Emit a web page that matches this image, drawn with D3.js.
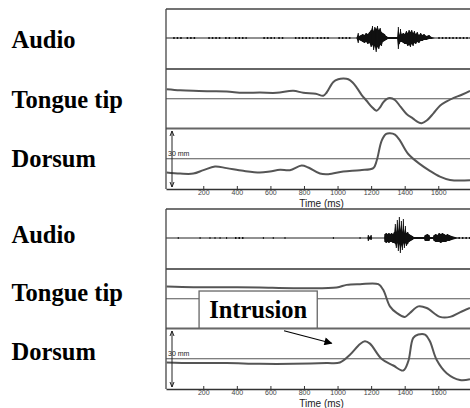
<!DOCTYPE html>
<html>
<head>
<meta charset="utf-8">
<script src="https://cdn.jsdelivr.net/npm/d3@7"></script>
<style>
body { margin: 0; background: #fff; }
svg { display: block; }
.lbl { font-family: "Liberation Serif", "Times New Roman", serif; font-weight: bold; font-size: 24.5px; fill: #000; }
.tick text { font-family: "Liberation Sans", Arial, sans-serif; font-size: 7px; fill: #444; }
.tick line { stroke: #333; }
.xlab { font-family: "Liberation Sans", Arial, sans-serif; font-size: 10px; fill: #222; }
.mm { font-family: "Liberation Sans", Arial, sans-serif; font-size: 7px; fill: #222; }
</style>
</head>
<body>
<div id="chart"></div>
<script>
var width = 470, height = 408;

// x axis (ms)
var timeDomain = [-22, 1789];
var timeTicks = [200, 400, 600, 800, 1000, 1200, 1400, 1600];
var rowLabels = ["Audio", "Tongue tip", "Dorsum"];

// ---- trial 1 (top) ----
// audio: quiet dashes [t0, t1] and burst envelope [t, max, min]
var noise1 = [[21,81],[101,161],[230,310],[330,369],[389,459],[558,627],[647,687],[746,856],[876,955],[1005,1084],[1600,1789]];
var audio1 = [[1112,0,0],[1123,5,-5],[1128,2,-2],[1140,3,-3],[1150,4,-4],[1160,3,-5],[1170,5,-4],[1180,4,-6],
  [1190,6,-5],[1200,8,-9],[1208,12,-7],[1215,7,-12],[1222,11,-8],[1230,9,-14],[1238,12,-9],[1246,8,-11],
  [1254,10,-7],[1262,6,-8],[1270,5,-4],[1280,4,-3],[1290,2,-2],[1300,1,-1],[1340,1,-1],[1355,1,-1],
  [1362,11,-11],[1368,3,-6],[1375,9,-4],[1382,4,-4],[1392,5,-5],[1400,4,-6],[1410,7,-6],[1418,5,-8],
  [1426,8,-7],[1434,6,-9],[1442,8,-6],[1450,5,-8],[1458,7,-5],[1466,4,-6],[1475,6,-4],[1485,3,-5],
  [1495,5,-3],[1505,3,-3],[1515,4,-2],[1530,2,-2],[1545,3,-1],[1560,1,-1],[1580,0,0]];
// tongue tip / dorsum position, mm from reference line
var tongue1 = [[-18,4.85],[62,4.3],[141,4],[240,3.8],[339,3.65],[438,3],[537,3.1],[637,3],[736,4],[796,3],
  [870,2.5],[915,1.5],[935,3.15],[975,8.5],[1004,9.8],[1034,10.15],[1064,9.85],[1090,8.2],[1114,5.65],
  [1143,2],[1173,-1],[1203,-4],[1233,-6],[1252,-4.5],[1272,-1.85],[1292,-0.2],[1312,0.35],[1342,-0.65],
  [1375,-4],[1411,-7.65],[1450,-10],[1480,-11.8],[1501,-12.35],[1531,-11],[1570,-7.5],[1610,-3.5],
  [1650,-1.3],[1689,0.35],[1740,2],[1789,4]];
var dorsum1 = [[-18,-6.85],[62,-7.35],[141,-7.35],[201,-5.65],[270,-3.85],[339,-4.65],[438,-6],[537,-6.85],
  [597,-6.35],[657,-5.5],[716,-5.65],[786,-3.35],[826,-4.35],[895,-7.35],[945,-7.65],[1034,-6.35],
  [1134,-5.65],[1213,-4.65],[1233,-1],[1263,9],[1290,12.3],[1312,12.65],[1342,12],[1372,9],[1421,2.35],
  [1491,-2.65],[1550,-6],[1610,-8.85],[1670,-10.5],[1789,-10.65]];

// ---- trial 2 (bottom) ----
var noise2 = [[48,54],[178,184],[237,243],[267,273],[297,303],[336,342],[389,449],[555,561],[614,620],[684,690],[972,978],[1131,1137],[1720,1789]];
var audio2 = [[1178,0,0],[1183,3,-3],[1192,1,-1],[1200,3,-2],[1206,0,0],
  [1278,0,0],[1282,4,-4],[1290,5,-5],[1298,4,-4],[1306,5,-5],[1314,4,-4],[1322,5,-4],[1330,4,-5],
  [1338,6,-5],[1344,14,-6],[1350,6,-10],[1356,18,-5],[1362,7,-13],[1368,21,-6],[1374,8,-15],[1380,17,-7],
  [1386,6,-12],[1392,19,-5],[1398,5,-10],[1404,12,-5],[1410,5,-8],[1418,6,-6],[1426,4,-4],[1436,3,-3],
  [1446,2,-2],[1455,1,-1],[1515,1,-1],[1522,3,-3],[1535,4,-3],[1545,3,-3],[1552,1,-1],[1568,1,-1],
  [1575,3,-3],[1585,4,-4],[1595,3,-4],[1605,5,-4],[1615,4,-5],[1625,5,-4],[1635,4,-4],[1645,3,-4],
  [1655,4,-3],[1665,3,-3],[1680,2,-2],[1700,1,-1],[1720,0,0]];
var tongue2 = [[-18,6.15],[141,5.85],[339,5.85],[537,5.65],[736,5.35],[994,5.65],[1054,7],[1134,7.35],
  [1243,7.35],[1272,4.5],[1312,-3.85],[1352,-7.15],[1401,-9.15],[1431,-7.15],[1481,-3.85],[1531,-4.65],
  [1610,-9.15],[1670,-9.15],[1729,-6.85],[1789,-4.65]];
var dorsum2 = [[-18,-1.85],[141,-2.15],[339,-2.15],[537,-2.5],[736,-2.5],[935,-2.15],[1014,-1.85],[1074,2],
  [1134,7.35],[1163,8.65],[1193,7.5],[1263,-0.15],[1332,-3.35],[1391,-5.85],[1421,-1.35],[1451,10.35],
  [1481,12],[1521,12],[1550,8.65],[1590,-0.5],[1650,-7.15],[1729,-10.5],[1789,-10.15]];

var trials = [
  {top: 9,   noise: noise1, audio: audio1, tongue: tongue1, dorsum: dorsum1, labelY: [48, 108, 167], axisLabelY: 206.5},
  {top: 209, noise: noise2, audio: audio2, tongue: tongue2, dorsum: dorsum2, labelY: [243, 301, 360], axisLabelY: 407}
];

var svg = d3.select("#chart").append("svg")
    .attr("width", width)
    .attr("height", height);

var defs = svg.append("defs");
defs.append("marker")
    .attr("id", "headBig")
    .attr("viewBox", "0 0 10 10")
    .attr("refX", 9).attr("refY", 5)
    .attr("markerWidth", 9).attr("markerHeight", 8)
    .attr("markerUnits", "userSpaceOnUse")
    .attr("orient", "auto")
  .append("path")
    .attr("d", "M0,0 L10,5 L0,10 Z")
    .attr("fill", "#000");

var x = d3.scaleLinear().domain(timeDomain).range([166, 470]);
var left = x.range()[0];

function drawTrial(t, i) {
  var g = svg.append("g").attr("class", "trial");
  var bands = [t.top, t.top + 60, t.top + 119.5, t.top + 180];

  var yAudio = d3.scaleLinear().domain([-31, 29]).range([bands[1], bands[0]]);
  var yTongue = d3.scaleLinear().domain([-15, 15]).range([bands[2], bands[1]]);
  var yDorsum = d3.scaleLinear().domain([-15, 15]).range([bands[3], bands[2]]);

  // reference lines
  [yTongue(0), yDorsum(0)].forEach(function(yy) {
    g.append("line").attr("x1", left).attr("x2", width).attr("y1", yy).attr("y2", yy)
      .attr("stroke", "#555").attr("stroke-width", 1);
  });

  // audio baseline + noise + bursts
  g.append("line").attr("x1", left).attr("x2", width)
    .attr("y1", yAudio(0)).attr("y2", yAudio(0))
    .attr("stroke", "#222").attr("stroke-width", 1);

  g.selectAll(".noise").data(t.noise).enter().append("line")
    .attr("class", "noise")
    .attr("x1", function(d) { return x(d[0]); })
    .attr("x2", function(d) { return x(d[1]); })
    .attr("y1", yAudio(0)).attr("y2", yAudio(0))
    .attr("stroke", "#111").attr("stroke-width", 1.8)
    .attr("stroke-dasharray", "1.5,2");

  var env = d3.area()
    .x(function(d) { return x(d[0]); })
    .y0(function(d) { return yAudio(d[2]); })
    .y1(function(d) { return yAudio(d[1]); });
  g.append("path").datum(t.audio).attr("d", env).attr("fill", "#111");
  g.selectAll(".spike").data(t.audio).enter().append("line")
    .attr("class", "spike")
    .attr("x1", function(d) { return x(d[0]); })
    .attr("x2", function(d) { return x(d[0]); })
    .attr("y1", function(d) { return yAudio(d[1]); })
    .attr("y2", function(d) { return yAudio(d[2]); })
    .attr("stroke", "#111").attr("stroke-width", 1);

  // articulator traces
  var trace = function(ys) {
    return d3.line()
      .x(function(d) { return x(d[0]); })
      .y(function(d) { return ys(d[1]); })
      .curve(d3.curveCatmullRom.alpha(0.5));
  };
  g.append("path").datum(t.tongue).attr("d", trace(yTongue))
    .attr("fill", "none").attr("stroke", "#555").attr("stroke-width", 2);
  g.append("path").datum(t.dorsum).attr("d", trace(yDorsum))
    .attr("fill", "none").attr("stroke", "#555").attr("stroke-width", 2);

  // frame
  g.append("line").attr("x1", left).attr("x2", width).attr("y1", bands[0]).attr("y2", bands[0])
    .attr("stroke", "#444").attr("stroke-width", 1.3);
  [bands[1], bands[2]].forEach(function(yy) {
    g.append("line").attr("x1", left).attr("x2", width).attr("y1", yy).attr("y2", yy)
      .attr("stroke", "#666").attr("stroke-width", 1.8);
  });
  g.append("line").attr("x1", left).attr("x2", left).attr("y1", bands[0]).attr("y2", bands[3])
    .attr("stroke", "#444").attr("stroke-width", 1.3);

  // time axis
  var ax = g.append("g")
    .attr("transform", "translate(0," + bands[3] + ")")
    .call(d3.axisBottom(x).tickValues(timeTicks).tickFormat(d3.format("d"))
      .tickSizeInner(-3).tickSizeOuter(0).tickPadding(1.5));
  ax.select(".domain").attr("stroke", "#333").attr("stroke-width", 1.3);

  g.append("text").attr("class", "xlab")
    .attr("x", x(905)).attr("y", t.axisLabelY)
    .attr("text-anchor", "middle")
    .text("Time (ms)");

  // 30 mm scale bar
  var bx = 172, by0 = bands[2] + 2.5, by1 = bands[3] - 2;
  g.append("line").attr("x1", bx).attr("x2", bx).attr("y1", by0).attr("y2", by1)
    .attr("stroke", "#222").attr("stroke-width", 1);
  g.append("path").attr("d", "M" + (bx - 2) + "," + (by0 + 5) + "L" + bx + "," + by0 + "L" + (bx + 2) + "," + (by0 + 5))
    .attr("fill", "none").attr("stroke", "#222").attr("stroke-width", 1);
  g.append("path").attr("d", "M" + (bx - 2) + "," + (by1 - 5) + "L" + bx + "," + by1 + "L" + (bx + 2) + "," + (by1 - 5))
    .attr("fill", "none").attr("stroke", "#222").attr("stroke-width", 1);
  g.append("text").attr("class", "mm")
    .attr("x", 168).attr("y", yDorsum(0) - 2.5)
    .text("30 mm");

  // row labels
  g.selectAll(".lbl").data(rowLabels).enter().append("text")
    .attr("class", "lbl")
    .attr("x", 11.5)
    .attr("y", function(d, k) { return t.labelY[k]; })
    .text(function(d) { return d; });

  t.yTongue = yTongue;
  t.yDorsum = yDorsum;
}

trials.forEach(drawTrial);

// intrusion callout on trial 2
var t2 = trials[1];
svg.append("rect")
  .attr("x", x(175)).attr("y", t2.yTongue(3.9))
  .attr("width", x(879) - x(175)).attr("height", t2.yTongue(-14.8) - t2.yTongue(3.9))
  .attr("fill", "#fff").attr("stroke", "#666").attr("stroke-width", 1.3);
svg.append("text")
  .attr("class", "lbl")
  .attr("x", x(527)).attr("y", t2.yTongue(-9.6))
  .attr("text-anchor", "middle")
  .text("Intrusion");
svg.append("line")
  .attr("x1", x(681)).attr("y1", t2.yDorsum(13.9))
  .attr("x2", x(965)).attr("y2", t2.yDorsum(7.7))
  .attr("stroke", "#000").attr("stroke-width", 1.2)
  .attr("marker-end", "url(#headBig)");
</script>
</body>
</html>
